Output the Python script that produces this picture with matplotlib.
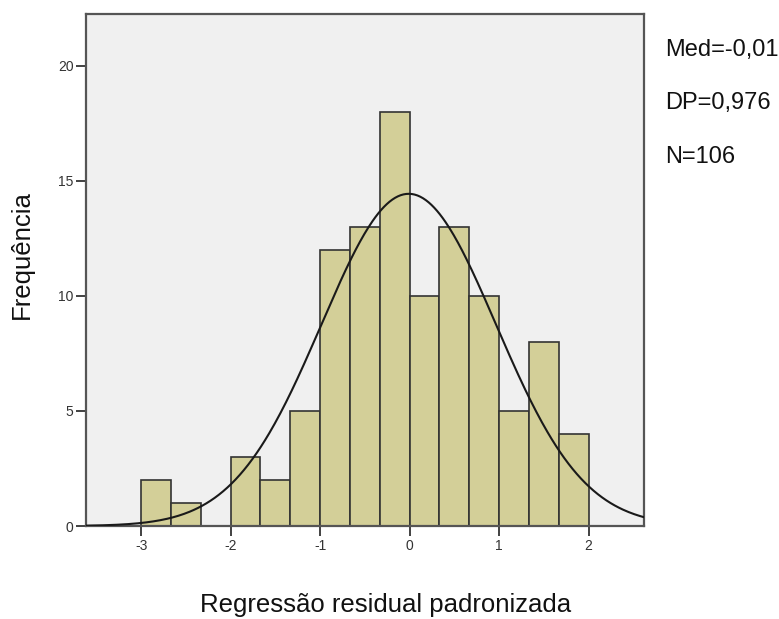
import numpy as np
import matplotlib
matplotlib.use("Agg")
import matplotlib.pyplot as plt

plt.rcParams['font.family'] = ['Liberation Sans', 'DejaVu Sans']

# histogram of standardized residuals
bin_start = -3.0
bin_width = 1.0 / 3.0
counts = [2, 1, 0, 3, 2, 5, 12, 13, 18, 10, 13, 10, 5, 8, 4]

mean = -0.01
sd = 0.976
n = 106

x_ticks = [-3, -2, -1, 0, 1, 2]
y_ticks = [0, 5, 10, 15, 20]
stats_text = ["Med=-0,01", "DP=0,976", "N=106"]

fig = plt.figure(figsize=(7.79, 6.19), dpi=100)
ax = fig.add_axes([86 / 779, 1 - 526 / 619, (644 - 86) / 779, (526 - 14) / 619])
ax.set_facecolor('#f0f0f0')

edges = [bin_start + i * bin_width for i in range(len(counts))]
ax.bar(edges, counts, width=bin_width, align='edge', color='#d3cf98',
       edgecolor='#333333', linewidth=1.2, zorder=2)

# fitted normal curve
xs = np.linspace(-3.617, 2.62, 400)
ys = n * bin_width / (sd * np.sqrt(2 * np.pi)) * np.exp(-0.5 * ((xs - mean) / sd) ** 2)
ax.plot(xs, ys, color='#1a1a1a', linewidth=1.5, zorder=3)

ax.set_xlim(-3.617, 2.62)
ax.set_ylim(0, 22.26)
ax.set_xticks(x_ticks)
ax.set_xticklabels([str(t) for t in x_ticks])
ax.set_yticks(y_ticks)
ax.set_yticklabels([str(t) for t in y_ticks])
ax.tick_params(axis='both', direction='out', length=7, width=1.3, color='#333333',
               labelsize=10, labelcolor='#333333', pad=2)
for s in ax.spines.values():
    s.set_color('#555555')
    s.set_linewidth(1.6)

fig.text(386 / 779, 1 - 612 / 619, "Regressão residual padronizada", ha='center', va='baseline',
         fontsize=18.5, color='#111111')
fig.text(22 / 779, 1 - 255 / 619, "Frequência", ha='center', va='center', rotation=90,
         fontsize=18.5, color='#111111')

for i, t in enumerate(stats_text):
    fig.text(665 / 779, 1 - (56 + i * 53.5) / 619, t, ha='left', va='baseline',
             fontsize=17, color='#111111')

fig.savefig("out.png", dpi=100)
